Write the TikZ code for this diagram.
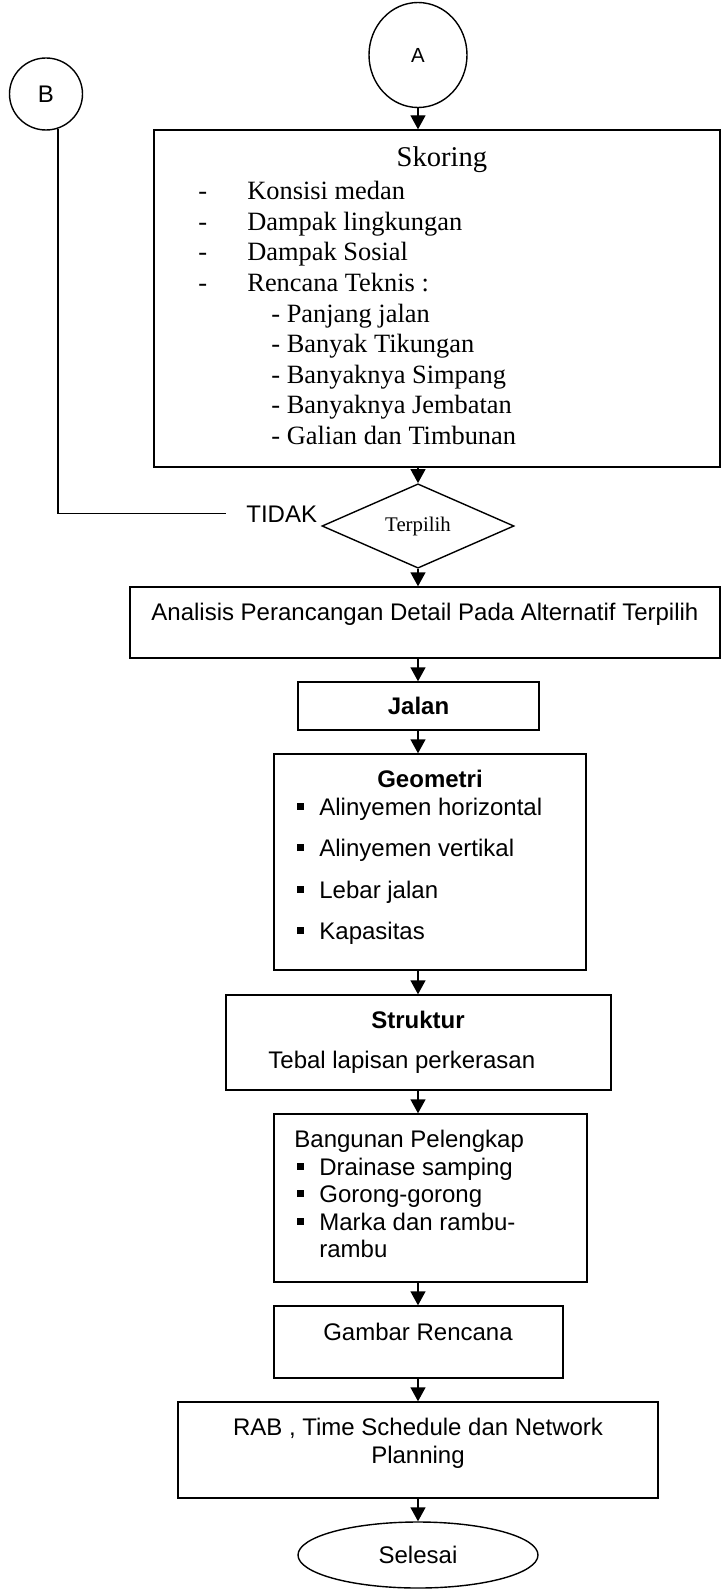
\documentclass[tikz,border=0pt]{standalone}
\usepackage{fontspec}
\setmainfont{Liberation Serif}
\setsansfont{Liberation Sans}
\usetikzlibrary{arrows.meta,positioning,shapes.geometric}
\tikzset{
  box/.style={draw,line width=0.7pt,inner sep=0pt},
  con/.style={draw,ellipse,line width=0.7pt,inner sep=0pt},
  dec/.style={draw,diamond,line width=0.7pt,inner sep=0pt,minimum width=96pt,minimum height=36pt,font=\fontsize{10.4}{12}\selectfont},
  arr/.style={-{Triangle[length=7pt,width=7.5pt]},line width=0.7pt},
  ar/.style={font=\sffamily\fontsize{12}{13.8}\selectfont},
  arb/.style={font=\sffamily\bfseries\fontsize{12}{13.8}\selectfont},
  tm/.style={font=\fontsize{13.2}{15.2}\selectfont,inner sep=0pt,anchor=base west},
  txt/.style={ar,inner sep=0pt,anchor=base west},
}
\newcommand{\sqbul}{\rule[2.7pt]{3.4pt}{3.4pt}}

\begin{document}
\begin{tikzpicture}[x=0.5pt,y=-0.5pt]
 \useasboundingbox (0,0) rectangle (721,1589);
 % konektor
 \node[con,ar,minimum width=36.5pt,minimum height=36pt] (B) at (46,94) {B};
 \node[con,minimum width=49pt,minimum height=52.5pt,font=\sffamily\fontsize{10.2}{12}\selectfont] (A) at (418,55) {A};
 % skoring
 \node[box,minimum width=283pt,minimum height=168.5pt] (skor) at (437,298.5) {};
 \node[tm,anchor=base,font=\fontsize{14.3}{16}\selectfont] (skortitle) at (442,167) {Skoring};
 \foreach \t [count=\i] in {Konsisi medan,Dampak lingkungan,Dampak Sosial,Rencana Teknis :}{
   \node[tm] (dash\i) at (198,{200+30.5*(\i-1)}) {-};
   \node[tm] (krit\i) at (247,{200+30.5*(\i-1)}) {\t};
 }
 \foreach \t [count=\i] in {Panjang jalan,Banyak Tikungan,Banyaknya Simpang,Banyaknya Jembatan,Galian dan Timbunan}
   \node[tm] (tek\i) at (271,{322+30.5*(\i-1)}) {- \t};
 % keputusan
 \node[dec] (pilih) at (418,526) {Terpilih};
 \node[txt] (tidak) at (246,522) {TIDAK};
 \coordinate (tidakend) at ([xshift=-10pt]tidak.west);
 % analisis
 \node[box,minimum width=295pt,minimum height=35.5pt] (anal) at (425,622.5) {};
 \node[txt] (analtxt) at (151,620) {Analisis Perancangan Detail Pada Alternatif Terpilih};
 \node[box,arb,minimum width=120.5pt,minimum height=24pt] (jalan) at (418.5,706) {Jalan};
 % geometri
 \node[box,minimum width=156pt,minimum height=108pt] (geo) at (430,862) {};
 \node[txt,arb,anchor=base] (geotitle) at (430,787) {Geometri};
 \foreach \t [count=\i] in {Alinyemen horizontal,Alinyemen vertikal,Lebar jalan,Kapasitas}{
   \node[txt] (gb\i) at (297,{815+41.5*(\i-1)}) {\sqbul};
   \node[txt] (geo\i) at (319,{815+41.5*(\i-1)}) {\t};
 }
 % struktur
 \node[box,minimum width=192.5pt,minimum height=47.5pt] (struk) at (418.5,1042.5) {};
 \node[txt,arb,anchor=base] (struktitle) at (418,1028) {Struktur};
 \node[txt] (tebal) at (268,1068) {Tebal lapisan perkerasan};
 % bangunan pelengkap
 \node[box,minimum width=156.5pt,minimum height=84pt] (bangun) at (430.5,1198) {};
 \node[txt] (bangtitle) at (294,1147) {Bangunan Pelengkap};
 \foreach \t [count=\i] in {Drainase samping,Gorong-gorong,Marka dan rambu-}{
   \node[txt] (bb\i) at (297,{1175+27.5*(\i-1)}) {\sqbul};
   \node[txt] (bang\i) at (319,{1175+27.5*(\i-1)}) {\t};
 }
 \node[txt] (bang4) at (319,1257.5) {rambu};
 % gambar, rab, selesai
 \node[box,minimum width=144.5pt,minimum height=36pt] (gambar) at (418.5,1342) {};
 \node[txt,anchor=base] (gambartxt) at (418,1340) {Gambar Rencana};
 \node[box,minimum width=240pt,minimum height=48pt] (rab) at (418,1450) {};
 \node[ar,align=center,inner sep=0pt] (rabtxt) at (418,1443) {RAB , Time Schedule dan Network\\Planning};
 \node[con,ar,minimum width=120pt,minimum height=33pt] (selesai) at (418,1555) {Selesai};
 % panah
 \draw[arr] (A.south) -- (A.south |- skor.north);
 \foreach \u/\v in {skor/pilih,pilih/anal,anal/jalan,jalan/geo,geo/struk,struk/bangun,bangun/gambar,gambar/rab,rab/selesai}
   \draw[arr] (\u.south -| A.south) -- (\v.north -| A.south);
 \draw[line width=0.7pt] (B.-71) |- (tidakend);
\end{tikzpicture}
\end{document}
